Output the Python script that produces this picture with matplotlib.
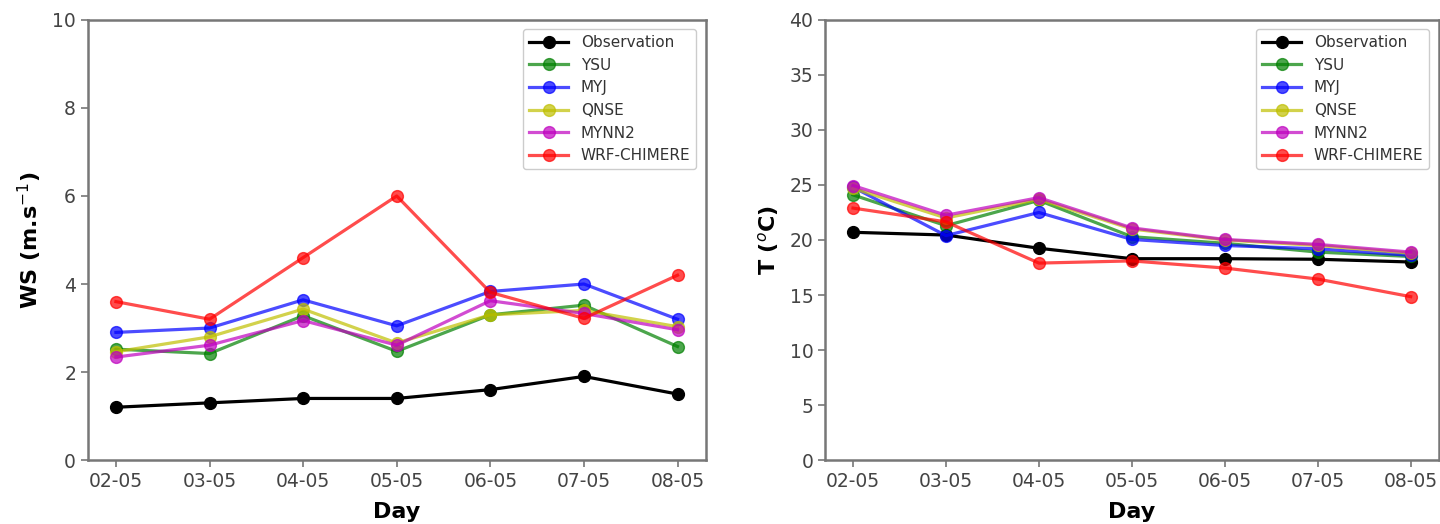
import matplotlib
matplotlib.use("Agg")
import matplotlib.pyplot as plt

days = ["02-05", "03-05", "04-05", "05-05", "06-05", "07-05", "08-05"]
series_names = ["Observation", "YSU", "MYJ", "QNSE", "MYNN2", "WRF-CHIMERE"]
series_colors = ["k", "g", "b", "y", "m", "r"]

ws_obs = [1.2, 1.3, 1.4, 1.4, 1.6, 1.9, 1.5]
ws_ysu = [2.52, 2.42, 3.28, 2.47, 3.3, 3.52, 2.58]
ws_myj = [2.9, 3.0, 3.64, 3.05, 3.83, 4.0, 3.2]
ws_qnse = [2.46, 2.8, 3.43, 2.66, 3.3, 3.4, 3.03]
ws_mynn2 = [2.34, 2.61, 3.17, 2.61, 3.62, 3.33, 2.96]
ws_chimere = [3.6, 3.2, 4.6, 6.0, 3.81, 3.22, 4.2]

t_obs = [20.7, 20.45, 19.25, 18.3, 18.3, 18.25, 18.0]
t_ysu = [24.1, 21.3, 23.6, 20.3, 19.7, 18.9, 18.5]
t_myj = [24.8, 20.4, 22.5, 20.05, 19.5, 19.2, 18.6]
t_qnse = [24.7, 22.0, 23.7, 21.0, 20.0, 19.5, 18.8]
t_mynn2 = [24.95, 22.25, 23.85, 21.1, 20.05, 19.6, 18.9]
t_chimere = [22.9, 21.65, 17.9, 18.1, 17.45, 16.45, 14.85]

ws_series = [ws_obs, ws_ysu, ws_myj, ws_qnse, ws_mynn2, ws_chimere]
t_series = [t_obs, t_ysu, t_myj, t_qnse, t_mynn2, t_chimere]

fig = plt.figure(figsize=(14.4, 5.24), dpi=100)
ax1 = fig.add_axes([0.061, 0.122, 0.429, 0.840])
ax2 = fig.add_axes([0.573, 0.122, 0.426, 0.840])

def draw(ax, data, ylim, yticks, ylabel):
    for name, col, vals in zip(series_names, series_colors, data):
        ax.plot(days, vals, marker="o", color=col, label=name, lw=2.3,
                markersize=8.5, alpha=0.7 if col != "k" else 1.0)
    ax.set_ylim(*ylim)
    ax.set_yticks(yticks)
    ax.set_xlabel("Day", fontsize=16, fontweight="bold", labelpad=8)
    ax.set_ylabel(ylabel, fontsize=16, fontweight="bold", labelpad=6)
    ax.tick_params(labelsize=13.5, colors="#777777", labelcolor="#444444",
                   length=5, width=1.2)
    for s in ax.spines.values():
        s.set_color("#777777")
        s.set_linewidth(1.8)
    leg = ax.legend(loc="upper right", fontsize=11, framealpha=1.0,
                    borderaxespad=0.6, handlelength=2.6)
    for t in leg.get_texts():
        t.set_color("#333333")

draw(ax1, ws_series, (0, 10), [0, 2, 4, 6, 8, 10], r"WS (m.s$^{-1}$)")
draw(ax2, t_series, (0, 40), list(range(0, 41, 5)), r"T ($^{o}$C)")

fig.savefig("out.png", dpi=100)
